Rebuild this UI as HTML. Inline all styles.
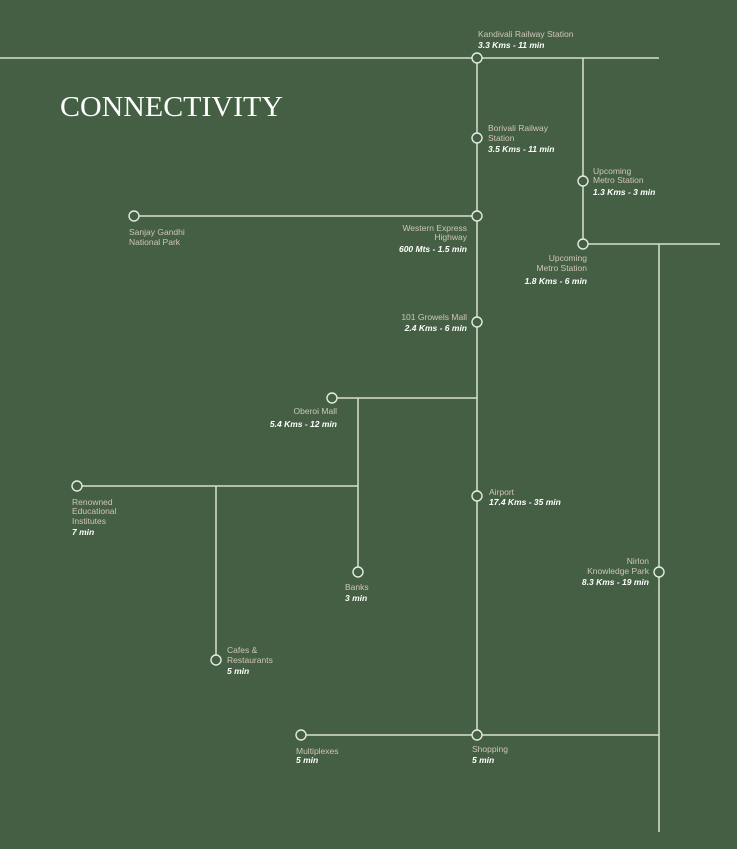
<!DOCTYPE html>
<html><head><meta charset="utf-8"><style>
html,body{margin:0;padding:0;background:#445f44;}
svg{display:block}
.l{font-family:"Liberation Sans",sans-serif;font-size:8.5px;fill:#cfc6b6;}
.b{font-family:"Liberation Sans",sans-serif;font-size:8.5px;fill:#ffffff;font-weight:bold;font-style:italic;}
</style></head><body>
<svg width="737" height="849" viewBox="0 0 737 849" xmlns="http://www.w3.org/2000/svg">
<rect width="737" height="849" fill="#445f44"/>
<g stroke="#d6e0d2" stroke-width="1.5" fill="none">
<line x1="0" y1="58" x2="659" y2="58"/>
<line x1="477" y1="58" x2="477" y2="735"/>
<line x1="583" y1="58" x2="583" y2="244"/>
<line x1="583" y1="244" x2="720" y2="244"/>
<line x1="659" y1="244" x2="659" y2="832"/>
<line x1="134" y1="216" x2="477" y2="216"/>
<line x1="332" y1="398" x2="477" y2="398"/>
<line x1="358" y1="398" x2="358" y2="572"/>
<line x1="77" y1="486" x2="358" y2="486"/>
<line x1="216" y1="486" x2="216" y2="660"/>
<line x1="301" y1="735" x2="659" y2="735"/>
</g>
<g stroke="#e4ebe2" stroke-width="1.4" fill="#445f44">
<circle cx="477" cy="58" r="5"/>
<circle cx="477" cy="138" r="5"/>
<circle cx="477" cy="216" r="5"/>
<circle cx="477" cy="322" r="5"/>
<circle cx="477" cy="496" r="5"/>
<circle cx="477" cy="735" r="5"/>
<circle cx="583" cy="181" r="5"/>
<circle cx="583" cy="244" r="5"/>
<circle cx="659" cy="572" r="5"/>
<circle cx="134" cy="216" r="5"/>
<circle cx="332" cy="398" r="5"/>
<circle cx="358" cy="572" r="5"/>
<circle cx="77" cy="486" r="5"/>
<circle cx="216" cy="660" r="5"/>
<circle cx="301" cy="735" r="5"/>
</g>
<text x="60" y="116" font-family="Liberation Serif, serif" font-size="29" fill="#ffffff" textLength="223" lengthAdjust="spacingAndGlyphs">CONNECTIVITY</text>

<text class="l" x="478" y="37">Kandivali Railway Station</text>
<text class="b" x="478" y="48">3.3 Kms - 11 min</text>

<text class="l" x="488" y="131">Borivali Railway</text>
<text class="l" x="488" y="141">Station</text>
<text class="b" x="488" y="152">3.5 Kms - 11 min</text>

<text class="l" x="593" y="174">Upcoming</text>
<text class="l" x="593" y="183">Metro Station</text>
<text class="b" x="593" y="195">1.3 Kms - 3 min</text>

<g text-anchor="end">
<text class="l" x="467" y="231">Western Express</text>
<text class="l" x="467" y="240">Highway</text>
<text class="b" x="467" y="252">600 Mts - 1.5 min</text>

<text class="l" x="587" y="261">Upcoming</text>
<text class="l" x="587" y="271">Metro Station</text>
<text class="b" x="587" y="284">1.8 Kms - 6 min</text>

<text class="l" x="467" y="320">101 Growels Mall</text>
<text class="b" x="467" y="331">2.4 Kms - 6 min</text>

<text class="l" x="337" y="414">Oberoi Mall</text>
<text class="b" x="337" y="427">5.4 Kms - 12 min</text>

<text class="l" x="649" y="564">Nirlon</text>
<text class="l" x="649" y="574">Knowledge Park</text>
<text class="b" x="649" y="585">8.3 Kms - 19 min</text>
</g>

<text class="l" x="129" y="235">Sanjay Gandhi</text>
<text class="l" x="129" y="245">National Park</text>

<text class="l" x="72" y="505">Renowned</text>
<text class="l" x="72" y="514">Educational</text>
<text class="l" x="72" y="524">Institutes</text>
<text class="b" x="72" y="535">7 min</text>

<text class="l" x="489" y="495">Airport</text>
<text class="b" x="489" y="505">17.4 Kms - 35 min</text>

<text class="l" x="345" y="590">Banks</text>
<text class="b" x="345" y="601">3 min</text>

<text class="l" x="227" y="653">Cafes &amp;</text>
<text class="l" x="227" y="663">Restaurants</text>
<text class="b" x="227" y="674">5 min</text>

<text class="l" x="296" y="754">Multiplexes</text>
<text class="b" x="296" y="763">5 min</text>

<text class="l" x="472" y="752">Shopping</text>
<text class="b" x="472" y="763">5 min</text>
</svg>
</body></html>
